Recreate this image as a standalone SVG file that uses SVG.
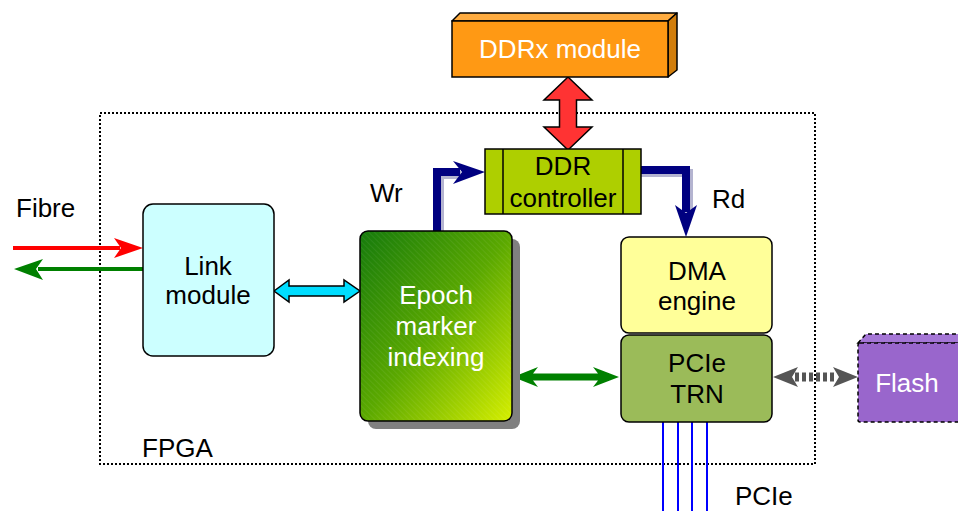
<svg xmlns="http://www.w3.org/2000/svg" width="958" height="511" viewBox="0 0 958 511">
  <defs>
    <style>
      text { font-family: "Liberation Sans", Arial, sans-serif; font-size: 26px; }
      .lbl { fill: #000000; }
      .wht { fill: #ffffff; }
      .mid { text-anchor: middle; }
      .box { stroke: #000000; stroke-width: 1.5; }
      .bus { fill: none; stroke: #000080; stroke-width: 8; }
      .lane { stroke: #0000ff; stroke-width: 2; }
    </style>
    <linearGradient id="epochFill" x1="0" y1="0" x2="1" y2="1">
      <stop offset="0" stop-color="#157a0c"/>
      <stop offset="0.5" stop-color="#5aa800"/>
      <stop offset="1" stop-color="#d6ef00"/>
    </linearGradient>
    <pattern id="hatch" width="4" height="4" patternUnits="userSpaceOnUse" patternTransform="rotate(-45)">
      <line x1="0" y1="0" x2="0" y2="4" stroke="#ffffff" stroke-opacity="0.12" stroke-width="1"/>
    </pattern>
  </defs>

  <!-- FPGA boundary -->
  <g id="fpga">
    <rect x="100" y="113" width="715" height="351" fill="none" stroke="#000000" stroke-width="2" stroke-dasharray="2 2"/>
    <text class="lbl" x="142" y="457">FPGA</text>
  </g>

  <!-- connectors -->
  <g id="connectors">
    <!-- fibre rx / tx -->
    <line x1="13" y1="248" x2="120" y2="248" stroke="#ff0000" stroke-width="4"/>
    <polygon points="143,248 114,238 121,248 114,258" fill="#ff0000"/>
    <line x1="143" y1="269" x2="38" y2="269" stroke="#008000" stroke-width="4"/>
    <polygon points="14,269 43,259 36,269 43,280" fill="#008000"/>

    <!-- DDRx <-> DDR controller -->
    <polygon points="568,77 592,100 576.5,100 576.5,127 592,127 568,150 544,127 559.5,127 559.5,100 544,100" fill="#ff3333" stroke="#000000" stroke-width="1.5"/>

    <!-- link <-> epoch -->
    <polygon points="274,291 289,280 289,286 344,286 344,280 360,291 344,302 344,296 289,296 289,302" fill="#00ddff" stroke="#000000" stroke-width="1.5"/>

    <!-- write path -->
    <path d="M440,233 V175 H461" fill="none" stroke="#b4b4d0" stroke-width="8"/>
    <path class="bus" d="M437,231 V172 H460"/>
    <polygon points="485,172 453,161 462,172 453,184" fill="#000080"/>

    <!-- read path -->
    <path d="M641,173 H689 V210" fill="none" stroke="#b4b4d0" stroke-width="8"/>
    <path class="bus" d="M641,170 H686 V212"/>
    <polygon points="686,237 675,205 686,213 697,205" fill="#000080"/>

    <!-- epoch <-> PCIe TRN -->
    <polygon points="513,377 538,367 533,373.5 598,373.5 593,367 619,377 593,387 598,380.5 533,380.5 538,387" fill="#008000"/>

    <!-- PCIe TRN <-> flash -->
    <line x1="795" y1="377" x2="836" y2="377" stroke="#555555" stroke-width="9" stroke-dasharray="4 3"/>
    <polygon points="773,377 798,367 792,377 798,387" fill="#555555"/>
    <polygon points="858,377 833,367 839,377 833,387" fill="#555555"/>

    <!-- PCIe lanes -->
    <line class="lane" x1="663" y1="422" x2="663" y2="511"/>
    <line class="lane" x1="678" y1="422" x2="678" y2="511"/>
    <line class="lane" x1="692" y1="422" x2="692" y2="511"/>
    <line class="lane" x1="707" y1="422" x2="707" y2="511"/>
  </g>

  <!-- labels on connectors -->
  <g id="labels">
    <text class="lbl" x="16" y="217">Fibre</text>
    <text class="lbl" x="370" y="202">Wr</text>
    <text class="lbl" x="712" y="208">Rd</text>
    <text class="lbl" x="735" y="505">PCIe</text>
  </g>

  <!-- external DDR memory -->
  <g id="ddrx-module">
    <polygon points="452,21 460,13 677,13 668,21" fill="#ffac40" stroke="#000000" stroke-width="1.5" stroke-linejoin="round"/>
    <polygon points="668,21 677,13 677,70 668,77" fill="#d27e0c" stroke="#000000" stroke-width="1.5" stroke-linejoin="round"/>
    <rect class="box" x="452" y="21" width="216" height="56" fill="#ff9914"/>
    <text class="wht mid" x="560" y="58">DDRx module</text>
  </g>

  <g id="ddr-controller">
    <rect class="box" x="485" y="149" width="156" height="65" fill="#aecf00"/>
    <line x1="503" y1="149" x2="503" y2="214" stroke="#000000" stroke-width="1.5"/>
    <line x1="623" y1="149" x2="623" y2="214" stroke="#000000" stroke-width="1.5"/>
    <text class="lbl mid" x="563" y="175">DDR</text>
    <text class="lbl mid" x="563" y="207">controller</text>
  </g>

  <g id="link-module">
    <rect class="box" x="143" y="204" width="131" height="152" rx="10" fill="#ccffff"/>
    <text class="lbl mid" x="208" y="275">Link</text>
    <text class="lbl mid" x="208" y="304">module</text>
  </g>

  <g id="epoch-marker">
    <rect x="368" y="239" width="152" height="190" rx="8" fill="#808080"/>
    <rect class="box" x="360" y="231" width="152" height="190" rx="8" fill="url(#epochFill)"/>
    <rect x="361" y="232" width="150" height="188" rx="7" fill="url(#hatch)"/>
    <text class="wht mid" x="436" y="304">Epoch</text>
    <text class="wht mid" x="436" y="335">marker</text>
    <text class="wht mid" x="436" y="366">indexing</text>
  </g>

  <g id="dma-engine">
    <rect class="box" x="621" y="237" width="151" height="96" rx="8" fill="#ffff99"/>
    <text class="lbl mid" x="697" y="280">DMA</text>
    <text class="lbl mid" x="697" y="310">engine</text>
  </g>

  <g id="pcie-trn">
    <rect class="box" x="621" y="335" width="151" height="87" rx="8" fill="#9bbb59"/>
    <text class="lbl mid" x="697" y="372">PCIe</text>
    <text class="lbl mid" x="697" y="403">TRN</text>
  </g>

  <g id="flash">
    <polygon points="858,343 866,334 966,334 962,343" fill="#a577d6" stroke="#000000" stroke-width="1.5" stroke-dasharray="4 3"/>
    <rect x="858" y="343" width="104" height="79" rx="2" fill="#9966cc" stroke="#000000" stroke-width="1.5" stroke-dasharray="4 3"/>
    <text class="wht mid" x="907" y="392">Flash</text>
  </g>
</svg>
